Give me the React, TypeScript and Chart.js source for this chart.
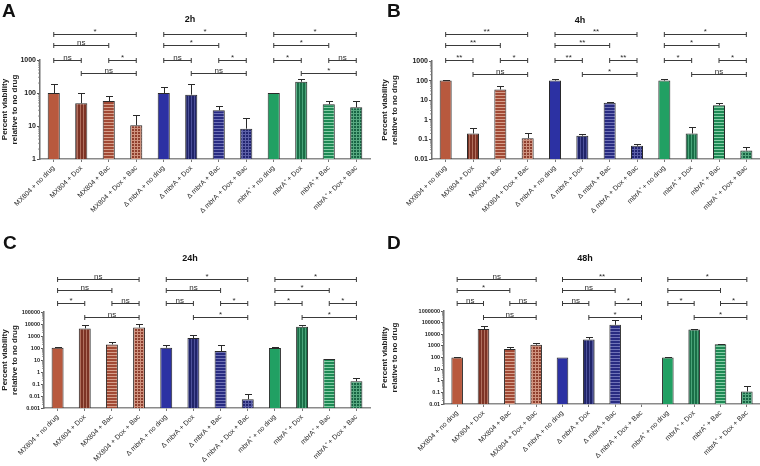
import React, { useEffect, useRef } from 'react';
import { Chart, registerables } from 'chart.js';

Chart.register(...registerables);

const FAMILY = '"Liberation Sans", Arial, Helvetica, sans-serif';

const categories = [
  'MX804 + no drug', 'MX804 + Dox', 'MX804 + Bac', 'MX804 + Dox + Bac',
  'Δ mbrA + no drug', 'Δ mbrA + Dox', 'Δ mbrA + Bac', 'Δ mbrA + Dox + Bac',
  'mbrA⁺ + no drug', 'mbrA⁺ + Dox', 'mbrA⁺ + Bac', 'mbrA⁺ + Dox + Bac',
];
const barStyles = ['solid', 'vert', 'horiz', 'grid', 'solid', 'vert', 'horiz', 'grid', 'solid', 'vert', 'horiz', 'grid'];
const barGroups = [0, 0, 0, 0, 1, 1, 1, 1, 2, 2, 2, 2];

// time point titles and panel letters
const titles = ['2h', '4h', '24h', '48h'];
const letters = ['A', 'B', 'C', 'D'];

// means and mean+SEM (upper end of error bar)
const mean2h = [100, 49, 57, 10.5, 100, 89, 30, 8.3, 100, 220, 46, 37];
const upper2h = [183, 102, 83, 21.5, 155, 183, 40, 17.8, 102, 265, 56, 58];
const mean4h = [100, 0.2, 35, 0.115, 100, 0.155, 7.4, 0.047, 100, 0.2, 5.6, 0.027];
const upper4h = [110, 0.37, 52, 0.2, 122, 0.18, 8.5, 0.055, 125, 0.43, 7.2, 0.04];
const mean24h = [105, 4300, 200, 5000, 105, 680, 55, 0.0053, 100, 6000, 12, 0.17];
const upper24h = [115, 7500, 320, 10000, 165, 1150, 190, 0.014, 125, 7500, 13, 0.3];
const mean48h = [100, 28000, 550, 1250, 100, 3500, 65000, null, 100, 25000, 1400, 0.12];
const upper48h = [109, 50000, 750, 1750, null, 6000, 180000, null, 110, 28000, 1500, 0.37];

// y-axis ranges
const yMin = [1, 0.01, 0.001, 0.01];
const yMax = [1000, 1000, 100000, 1000000];

// significance brackets: pairs of bar indexes, row of each bracket
const bracketPairs = [[0, 3], [4, 7], [8, 11], [0, 2], [4, 6], [8, 10], [0, 1], [2, 3], [4, 5], [6, 7], [8, 9], [10, 11], [1, 3], [5, 7], [9, 11]];
const bracketRows = [0, 0, 0, 1, 1, 1, 2, 2, 2, 2, 2, 2, 3, 3, 3];
const sig2h = ['*', '*', '*', 'ns', '*', '*', 'ns', '*', 'ns', '*', '*', 'ns', 'ns', 'ns', '*'];
const sig4h = ['**', '**', '*', '**', '**', '*', '**', '*', '**', '**', '*', '*', 'ns', '*', 'ns'];
const sig24h = ['ns', '*', '*', 'ns', 'ns', '*', '*', 'ns', 'ns', '*', '*', '*', 'ns', '*', '*'];
const sig48h = ['ns', '**', '*', '*', 'ns', '', 'ns', 'ns', 'ns', '*', '*', '*', 'ns', '*', '*'];
// log10 level of each bracket row
const levels2h = [3.79, 3.45, 3.0, 2.61];
const levels4h = [4.36, 3.8, 3.04, 2.36];
const levels24h = [7.79, 6.85, 5.76, 4.56];
const levels48h = [8.74, 7.77, 6.66, 5.52];

const groupColors = [
  { solid: '#b8593e', vert: ['#7d3325', '#b0705e'], horiz: ['#a24a35', '#d7a08c'], grid: ['#8f3f2e', '#cf937f'] },
  { solid: '#2c31a3', vert: ['#202469', '#4d519a'], horiz: ['#292c82', '#7174b8'], grid: ['#222570', '#5d60a8'] },
  { solid: '#21a063', vert: ['#1a6e47', '#4aa57a'], horiz: ['#1e8a55', '#87cfa8'], grid: ['#176343', '#58a981'] },
];

const layouts = [
  { left: 0, top: 0, axisW: 40, padTop: 60, padRight: 10, xAxisH: 74, tickSize: 7, titleX: 190, titleY: 21.5, letterX: 2, letterY: 17 },
  { left: 380, top: 0, axisW: 52, padTop: 61, padRight: 0, xAxisH: 74, tickSize: 7, titleX: 200, titleY: 22.5, letterX: 7, letterY: 17 },
  { left: 0, top: 233, axisW: 44, padTop: 79, padRight: 10, xAxisH: 58, tickSize: 5.5, titleX: 190, titleY: 28, letterX: 3, letterY: 15.5 },
  { left: 380, top: 233, axisW: 64, padTop: 78, padRight: 0, xAxisH: 62, tickSize: 5.5, titleX: 205, titleY: 27.7, letterX: 7, letterY: 15.5 },
];

const panelData = [
  { mean: mean2h, upper: upper2h, sig: sig2h, levels: levels2h },
  { mean: mean4h, upper: upper4h, sig: sig4h, levels: levels4h },
  { mean: mean24h, upper: upper24h, sig: sig24h, levels: levels24h },
  { mean: mean48h, upper: upper48h, sig: sig48h, levels: levels48h },
];

function makeFill(group: number, style: string): any {
  const c = groupColors[group] as any;
  if (style === 'solid') return c.solid;
  const [base, line] = c[style];
  const pc = document.createElement('canvas');
  pc.width = 3;
  pc.height = 3;
  const g = pc.getContext('2d')!;
  g.fillStyle = base;
  g.fillRect(0, 0, 3, 3);
  g.fillStyle = line;
  if (style === 'vert' || style === 'grid') g.fillRect(2, 0, 1, 3);
  if (style === 'horiz' || style === 'grid') g.fillRect(0, 2, 3, 1);
  return g.createPattern(pc, 'repeat');
}

function fmtTick(v: number): string {
  if (v >= 1) return String(Math.round(v));
  return v.toFixed(Math.round(-Math.log10(v)));
}

function Panel({ idx }: { idx: number }) {
  const ref = useRef<HTMLCanvasElement>(null);
  const L = layouts[idx];
  useEffect(() => {
    const canvas = ref.current!;
    const d = panelData[idx];
    const min = yMin[idx];
    const max = yMax[idx];
    const fills = barStyles.map((s, i) => makeFill(barGroups[i], s));
    const annot = {
      id: 'annot' + idx,
      afterDraw(chart: any) {
        const ctx = chart.ctx;
        const xs = chart.scales.x;
        const ys = chart.scales.y;
        const area = chart.chartArea;
        ctx.save();
        // minor log ticks
        ctx.strokeStyle = '#7a7a7a';
        ctx.lineWidth = 0.8;
        const e0 = Math.round(Math.log10(min));
        const e1 = Math.round(Math.log10(max));
        for (let e = e0; e < e1; e++) {
          for (let k = 2; k <= 9; k++) {
            const py = ys.getPixelForValue(k * Math.pow(10, e));
            ctx.beginPath();
            ctx.moveTo(area.left - 2, py);
            ctx.lineTo(area.left, py);
            ctx.stroke();
          }
        }
        // error bars
        const meta = chart.getDatasetMeta(0);
        ctx.strokeStyle = '#2a2a2a';
        ctx.lineWidth = 1;
        d.mean.forEach((m: any, i: number) => {
          const u = d.upper[i];
          if (m == null || u == null) return;
          const el = meta.data[i];
          const x = Math.round(el.x) + 0.5;
          const y0 = el.y;
          const y1 = Math.round(ys.getPixelForValue(u)) + 0.5;
          ctx.beginPath();
          ctx.moveTo(x, y0);
          ctx.lineTo(x, y1);
          ctx.moveTo(x - 3.5, y1);
          ctx.lineTo(x + 3.5, y1);
          ctx.stroke();
        });
        // brackets
        ctx.strokeStyle = '#3a3a3a';
        ctx.fillStyle = '#2a2a2a';
        ctx.font = '8px ' + FAMILY;
        ctx.textAlign = 'center';
        ctx.textBaseline = 'alphabetic';
        bracketPairs.forEach(([a, b], k) => {
          const yy = Math.round(ys.getPixelForValue(Math.pow(10, d.levels[bracketRows[k]]))) + 0.5;
          const xa = xs.getPixelForValue(a);
          const xb = xs.getPixelForValue(b);
          ctx.beginPath();
          ctx.moveTo(xa, yy);
          ctx.lineTo(xb, yy);
          ctx.moveTo(xa, yy - 2.5);
          ctx.lineTo(xa, yy + 2.5);
          ctx.moveTo(xb, yy - 2.5);
          ctx.lineTo(xb, yy + 2.5);
          ctx.stroke();
          const lab = d.sig[k];
          if (lab) ctx.fillText(lab, (xa + xb) / 2, lab === 'ns' ? yy - 0.5 : yy - 1);
        });
        // title and panel letter
        ctx.fillStyle = '#111';
        ctx.font = 'bold 9px ' + FAMILY;
        ctx.textAlign = 'center';
        ctx.fillText(titles[idx], L.titleX, L.titleY);
        ctx.font = 'bold 19px ' + FAMILY;
        ctx.textAlign = 'left';
        ctx.fillText(letters[idx], L.letterX, L.letterY);
        ctx.restore();
      },
    };
    const chart = new Chart(canvas, {
      type: 'bar',
      data: {
        labels: categories,
        datasets: [
          {
            data: d.mean as any,
            backgroundColor: fills,
            borderColor: '#2a2a2a',
            borderWidth: 1,
            barPercentage: 0.44,
            categoryPercentage: 1,
          },
        ],
      },
      options: {
        responsive: false,
        animation: false,
        events: [],
        layout: { padding: { top: L.padTop, right: L.padRight, left: 0, bottom: 0 } },
        plugins: { legend: { display: false }, tooltip: { enabled: false }, title: { display: false } },
        scales: {
          x: {
            offset: true,
            afterFit: (s: any) => {
              s.height = L.xAxisH;
            },
            border: { color: '#8a8a8a', width: 1.5 },
            grid: { drawOnChartArea: false, offset: false, tickLength: 3, tickColor: '#777' },
            ticks: {
              autoSkip: false,
              minRotation: 45,
              maxRotation: 45,
              padding: 2,
              color: '#2a2a2a',
              font: { family: FAMILY, size: 7 },
            },
          },
          y: {
            type: 'logarithmic',
            min,
            max,
            afterFit: (s: any) => {
              s.width = L.axisW;
            },
            afterBuildTicks: (s: any) => {
              const t: any[] = [];
              for (let e = Math.round(Math.log10(min)); e <= Math.round(Math.log10(max)); e++) {
                t.push({ value: Math.pow(10, e), major: true });
              }
              s.ticks = t;
            },
            border: { color: '#6e6e6e', width: 1.5 },
            grid: { drawOnChartArea: false, tickLength: 3, tickColor: '#555' },
            ticks: {
              autoSkip: false,
              padding: 1,
              color: '#222',
              font: { family: FAMILY, size: L.tickSize, weight: 'bold' },
              callback: (v: any) => fmtTick(Number(v)),
            },
            title: {
              display: true,
              text: ['Percent viability', 'relative to no drug'],
              color: '#222',
              padding: 0,
              font: { family: FAMILY, size: 8, weight: 'bold' },
            },
          },
        },
      } as any,
      plugins: [annot],
    });
    return () => chart.destroy();
  }, []);
  return (
    <canvas
      ref={ref}
      width={380}
      height={233}
      style={{ position: 'absolute', left: L.left, top: L.top, display: 'block' }}
    />
  );
}

export default function App() {
  return (
    <div style={{ position: 'absolute', left: 0, top: 0, width: 760, height: 466, background: '#fff', overflow: 'hidden' }}>
      {[0, 1, 2, 3].map((i) => (
        <Panel key={i} idx={i} />
      ))}
    </div>
  );
}
